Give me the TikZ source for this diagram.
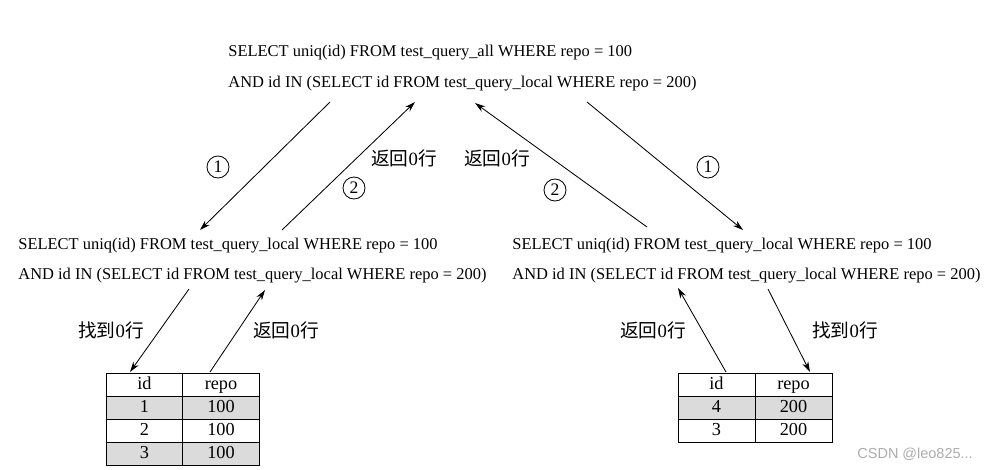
\documentclass[tikz,border=0pt]{standalone}
\usepackage{fontspec}
\setmainfont{Liberation Serif}
\setsansfont{Liberation Sans}
\newfontfamily\cjk{Noto Sans CJK SC}
\usetikzlibrary{arrows.meta}

\begin{document}
\begin{tikzpicture}[x=0.025cm, y=-0.025cm, line width=0.6pt,
  sql/.style={anchor=base west, inner sep=0pt, font=\fontsize{11.7}{14}\selectfont},
  note/.style={inner sep=0pt, font=\fontsize{13.3}{15}\selectfont},
  num/.style={draw, circle, minimum size=0.55cm, inner sep=0pt, font=\fontsize{12.5}{14}\selectfont},
  cell/.style={draw, minimum width=1.925cm, minimum height=0.575cm, inner sep=0pt,
    text height=9pt, text depth=2.5pt, font=\fontsize{13}{15}\selectfont},
  arr/.style={-{Stealth[length=2.6mm,width=1.6mm]}}]
  \useasboundingbox (0,0) rectangle (988,469);

  % queries
  \node[sql] (topa) at (228,56) {SELECT uniq(id) FROM test\_query\_all WHERE repo = 100};
  \node[sql] (topb) at (228,87) {AND id IN (SELECT id FROM test\_query\_local WHERE repo = 200)};
  \node[sql] (lefta) at (18,249) {SELECT uniq(id) FROM test\_query\_local WHERE repo = 100};
  \node[sql] (leftb) at (18,279) {AND id IN (SELECT id FROM test\_query\_local WHERE repo = 200)};
  \node[sql] (righta) at (512,249) {SELECT uniq(id) FROM test\_query\_local WHERE repo = 100};
  \node[sql] (rightb) at (512,279) {AND id IN (SELECT id FROM test\_query\_local WHERE repo = 200)};

  % tables
  \foreach \r/\i/\v/\c in {0/id/repo/white, 1/1/100/gray!28, 2/2/100/white, 3/3/100/gray!28}{
    \node[cell, fill=\c] (la\r) at (144.5,384.5+23*\r) {\i};
    \node[cell, fill=\c] (lb\r) at (221,384.5+23*\r) {\v};
  }
  \foreach \r/\i/\v/\c in {0/id/repo/white, 1/4/200/gray!28, 2/3/200/white}{
    \node[cell, fill=\c] (ra\r) at (716.5,384.5+23*\r) {\i};
    \node[cell, fill=\c] (rb\r) at (793.5,384.5+23*\r) {\v};
  }

  % arrow ends
  \coordinate (a1s) at (330,102);
  \coordinate (a1e) at (200,230);
  \coordinate (a2s) at (282,230);
  \coordinate (a2e) at (415,102);
  \coordinate (b2s) at (647,227);
  \coordinate (b2e) at (475,103);
  \coordinate (b1s) at (587,102);
  \coordinate (b1e) at (743,230);
  \coordinate (c1s) at (189,289);
  \coordinate (c1e) at (130,372);
  \coordinate (c2s) at (210,372);
  \coordinate (c2e) at (265,290);
  \coordinate (d2s) at (726,372);
  \coordinate (d2e) at (678,288);
  \coordinate (d1s) at (768,289);
  \coordinate (d1e) at (810,372);
  \foreach \s/\e in {a1s/a1e, a2s/a2e, b2s/b2e, b1s/b1e, c1s/c1e, c2s/c2e, d2s/d2e, d1s/d1e}
    \draw[arr] (\s) -- (\e);

  % labels
  \node[num] (n1l) at (218,167) {1};
  \node[num] (n2l) at (354,188) {2};
  \node[num] (n2r) at (555,190) {2};
  \node[num] (n1r) at (708,167) {1};
  \node[note] (backl) at (404,158) {{\cjk 返回}0{\cjk 行}};
  \node[note] (backr) at (497,158) {{\cjk 返回}0{\cjk 行}};
  \node[note] (findl) at (111,330) {{\cjk 找到}0{\cjk 行}};
  \node[note] (retl) at (286,330) {{\cjk 返回}0{\cjk 行}};
  \node[note] (retr) at (653,330) {{\cjk 返回}0{\cjk 行}};
  \node[note] (findr) at (845,330) {{\cjk 找到}0{\cjk 行}};

  \node[anchor=west, inner sep=0pt, text=gray!65, font=\sffamily\fontsize{10.3}{12}\selectfont] (mark) at (857,454) {CSDN @leo825...};
\end{tikzpicture}
\end{document}
